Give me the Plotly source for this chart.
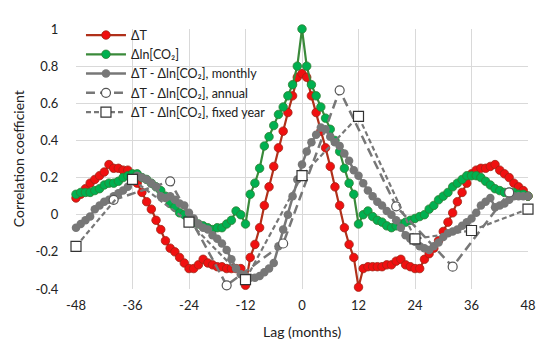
import plotly.graph_objects as go

lags = list(range(-48, 49))

dT = [0.09, 0.11, 0.14, 0.17, 0.19, 0.21, 0.23, 0.27, 0.25, 0.25, 0.24, 0.24,
      0.21, 0.17, 0.12, 0.07, 0.03, -0.03, -0.08, -0.14, -0.18, -0.20, -0.23, -0.26,
      -0.29, -0.29, -0.27, -0.24, -0.26, -0.27, -0.28, -0.28, -0.29, -0.29, -0.29, -0.29,
      -0.38, -0.23, -0.16, -0.07, 0.05, 0.15, 0.26, 0.36, 0.45, 0.55, 0.64, 0.74,
      0.76,
      0.74, 0.64, 0.55, 0.45, 0.36, 0.26, 0.15, 0.05, -0.07, -0.16, -0.23, -0.39,
      -0.29, -0.28, -0.28, -0.28, -0.28, -0.27, -0.27, -0.25, -0.24, -0.27, -0.28, -0.29,
      -0.29, -0.24, -0.21, -0.18, -0.14, -0.09, -0.04, 0.01, 0.07, 0.12, 0.17, 0.22,
      0.24, 0.25, 0.25, 0.26, 0.27, 0.24, 0.22, 0.20, 0.17, 0.15, 0.13, 0.10]

dlnCO2 = [0.11, 0.12, 0.12, 0.12, 0.13, 0.14, 0.16, 0.17, 0.17, 0.18, 0.20, 0.21,
          0.22, 0.22, 0.20, 0.19, 0.17, 0.15, 0.13, 0.10, 0.06, 0.04, 0.01, 0.00,
          -0.02, -0.04, -0.05, -0.06, -0.07, -0.08, -0.07, -0.07, -0.05, -0.03, 0.02, 0.00,
          -0.05, 0.11, 0.17, 0.25, 0.37, 0.42, 0.48, 0.54, 0.58, 0.64, 0.70, 0.80,
          1.00,
          0.80, 0.70, 0.64, 0.58, 0.52, 0.46, 0.40, 0.34, 0.25, 0.17, 0.11, -0.05,
          0.00, 0.02, -0.01, -0.03, -0.04, -0.06, -0.07, -0.06, -0.05, -0.04, -0.03, -0.02,
          -0.01, 0.00, 0.03, 0.05, 0.08, 0.10, 0.12, 0.15, 0.17, 0.19, 0.21, 0.21,
          0.21, 0.20, 0.18, 0.16, 0.14, 0.13, 0.12, 0.12, 0.12, 0.11, 0.11, 0.10]

monthly = [-0.07, -0.05, -0.03, -0.01, 0.03, 0.05, 0.07, 0.08, 0.10, 0.115, 0.13, 0.15,
           0.18, 0.21, 0.20, 0.19, 0.17, 0.15, 0.10, 0.09, 0.10, 0.08, 0.06, 0.05,
           0.01, -0.02, -0.05, -0.07, -0.08, -0.11, -0.13, -0.155, -0.19, -0.24, -0.29, -0.32,
           -0.33, -0.34, -0.34, -0.33, -0.31, -0.29, -0.26, -0.17, -0.08, 0.00, 0.10, 0.19,
           0.27,
           0.34, 0.39, 0.43, 0.47, 0.46, 0.42, 0.39, 0.37, 0.33, 0.29, 0.24, 0.21,
           0.17, 0.13, 0.10, 0.07, 0.05, 0.02, 0.00, -0.03, -0.07, -0.11, -0.13, -0.145,
           -0.17, -0.18, -0.19, -0.17, -0.15, -0.12, -0.10, -0.09, -0.08, -0.06, -0.04, -0.02,
           0.01, 0.05, 0.07, 0.09, 0.04, 0.05, 0.06, 0.08, 0.10, 0.10, 0.10, 0.10]

annual_lags = [-40, -28, -16, -4, 8, 20, 32, 44]
annual = [0.08, 0.18, -0.38, -0.155, 0.67, 0.045, -0.28, 0.12]

fixed_lags = [-48, -36, -24, -12, 0, 12, 24, 36, 48]
fixed = [-0.17, 0.19, -0.04, -0.35, 0.21, 0.53, -0.13, -0.085, 0.03]

x_ticks = [-48, -36, -24, -12, 0, 12, 24, 36, 48]
y_ticks = [-0.4, -0.2, 0, 0.2, 0.4, 0.6, 0.8, 1]
y_tick_text = ["-0.4", "-0.2", "0", "0.2", "0.4", "0.6", "0.8", "1"]

FONT = "Lato, Open Sans, sans-serif"
GRAY = "#777777"
CLEAR = "rgba(0,0,0,0)"

fig = go.Figure()
fig.add_trace(go.Scatter(
    x=lags, y=dT, name="ΔT", mode="lines+markers",
    line=dict(color="#B0301A", width=2.2),
    marker=dict(color="#F01010", size=8.5, line=dict(color="#A02515", width=0.8)),
    cliponaxis=False))
fig.add_trace(go.Scatter(
    x=lags, y=dlnCO2, name="Δln[CO₂]", mode="lines+markers",
    line=dict(color="#3A8A3A", width=2.2),
    marker=dict(color="#00B050", size=8.5, line=dict(color="#2E7D32", width=0.8)),
    cliponaxis=False))
fig.add_trace(go.Scatter(
    x=lags, y=monthly, name="ΔT - Δln[CO₂], monthly", mode="lines+markers",
    line=dict(color=GRAY, width=2.5),
    marker=dict(color=GRAY, size=8.5),
    cliponaxis=False))
fig.add_trace(go.Scatter(
    x=annual_lags, y=annual, name="ΔT - Δln[CO₂], annual", mode="lines+markers",
    line=dict(color=GRAY, width=2.5, dash="9px,5px"),
    marker=dict(color="white", size=9, symbol="circle", line=dict(color="#555555", width=1.2)),
    cliponaxis=False))
fig.add_trace(go.Scatter(
    x=fixed_lags, y=fixed, name="ΔT - Δln[CO₂], fixed year", mode="lines+markers",
    line=dict(color=GRAY, width=2.2, dash="5px,3px"),
    marker=dict(color="white", size=10, symbol="square", line=dict(color="#333333", width=1.2)),
    cliponaxis=False))

# The page body adds an 8px offset, so the figure is 8px smaller with 8px smaller left/top margins.
fig.update_layout(
    width=542, height=339,
    margin=dict(l=68, r=22, t=12, b=58),
    paper_bgcolor="white", plot_bgcolor="white",
    font=dict(family=FONT, size=13, color="#222222"),
    showlegend=True,
    legend=dict(x=0.011, y=1.033, xanchor="left", yanchor="top",
                bgcolor=CLEAR, font=dict(size=12.5, family=FONT),
                tracegroupgap=0, itemwidth=40),
    xaxis=dict(range=[-48, 48], tickvals=x_ticks, ticktext=[str(v) for v in x_ticks],
               showgrid=True, gridcolor="#D9D9D9", gridwidth=1,
               zeroline=False, showline=False, automargin=False,
               ticks="outside", ticklen=4, tickcolor=CLEAR,
               tickfont=dict(size=13, family=FONT)),
    yaxis=dict(range=[-0.4, 1], tickvals=y_ticks, ticktext=y_tick_text,
               showgrid=True, gridcolor="#D9D9D9", gridwidth=1,
               zeroline=False, showline=False, automargin=False,
               ticks="outside", ticklen=14, tickcolor=CLEAR,
               tickfont=dict(size=13, family=FONT)),
    annotations=[
        dict(text="Lag (months)", xref="paper", yref="paper", x=0.5, y=-0.163,
             xanchor="center", yanchor="middle", showarrow=False,
             font=dict(size=14, family=FONT)),
        dict(text="Correlation coefficient", xref="paper", yref="paper", x=-0.128, y=0.5,
             xanchor="center", yanchor="middle", textangle=-90, showarrow=False,
             font=dict(size=14, family=FONT)),
    ],
)
fig.write_html("out.html")
